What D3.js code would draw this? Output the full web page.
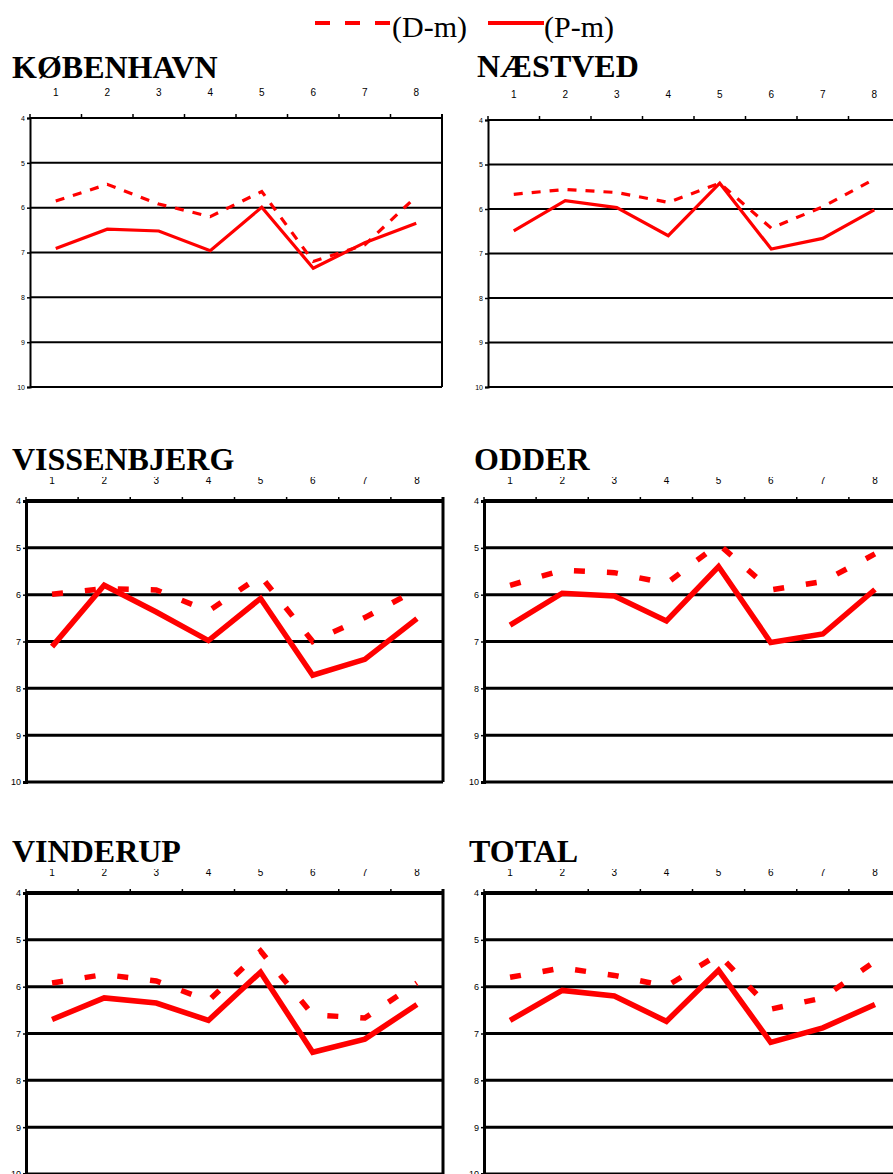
<!DOCTYPE html>
<html>
<head>
<meta charset="utf-8">
<script src="https://cdn.jsdelivr.net/npm/d3@7"></script>
<style>
  body { margin: 0; background: #fff; }
  svg { display: block; }
</style>
</head>
<body>
<div id="chart"></div>
<script>
const W = 893, H = 1174;

// data
const categories = ["1", "2", "3", "4", "5", "6", "7", "8"];
const yTicks = [4, 5, 6, 7, 8, 9, 10];
const seriesNames = ["(D-m)", "(P-m)"];
const towns = ["KØBENHAVN", "NÆSTVED", "VISSENBJERG", "ODDER", "VINDERUP", "TOTAL"];

const kobenhavnD = [5.85, 5.48, 5.92, 6.2, 5.64, 7.2, 6.83, 5.75];
const kobenhavnP = [6.91, 6.48, 6.52, 6.96, 5.99, 7.35, 6.78, 6.35];
const naestvedD = [5.67, 5.56, 5.63, 5.85, 5.42, 6.43, 5.95, 5.33];
const naestvedP = [6.49, 5.81, 5.97, 6.6, 5.42, 6.9, 6.66, 6.02];
const vissenbjergD = [5.99, 5.87, 5.9, 6.35, 5.6, 7.0, 6.49, 5.89];
const vissenbjergP = [7.11, 5.8, 6.37, 6.98, 6.08, 7.72, 7.38, 6.51];
const odderD = [5.8, 5.48, 5.53, 5.76, 4.92, 5.9, 5.72, 5.13];
const odderP = [6.65, 5.97, 6.03, 6.56, 5.4, 7.02, 6.84, 5.89];
const vinderupD = [5.92, 5.74, 5.88, 6.3, 5.24, 6.6, 6.67, 5.92];
const vinderupP = [6.7, 6.24, 6.35, 6.72, 5.69, 7.4, 7.12, 6.38];
const totalD = [5.8, 5.6, 5.76, 5.99, 5.31, 6.48, 6.24, 5.46];
const totalP = [6.72, 6.08, 6.2, 6.74, 5.65, 7.19, 6.88, 6.38];

const dValues = [kobenhavnD, naestvedD, vissenbjergD, odderD, vinderupD, totalD];
const pValues = [kobenhavnP, naestvedP, vissenbjergP, odderP, vinderupP, totalP];

// panel layout (pixel boxes)
const panels = [
  {x: 30,  y: 118, w: 412, h: 269, tx: 12,  ty: 78,  big: false},
  {x: 488, y: 120, w: 412, h: 267, tx: 477, ty: 77,  big: false},
  {x: 26,  y: 501, w: 417, h: 281, tx: 12,  ty: 470, big: true},
  {x: 484, y: 501, w: 417, h: 281, tx: 474, ty: 470, big: true},
  {x: 26,  y: 893, w: 417, h: 281, tx: 12,  ty: 862, big: true},
  {x: 484, y: 893, w: 417, h: 281, tx: 469, ty: 862, big: true}
];

const red = "#ff0000";

const svg = d3.select("#chart").append("svg")
    .attr("width", W)
    .attr("height", H)
    .attr("viewBox", `0 0 ${W} ${H}`);

const defs = svg.append("defs");

// legend
const legend = svg.append("g").attr("font-family", "Liberation Serif, Times New Roman, serif")
    .attr("font-size", 30);
legend.append("line")
    .attr("x1", 315).attr("x2", 391).attr("y1", 23).attr("y2", 23)
    .attr("stroke", red).attr("stroke-width", 4).attr("stroke-dasharray", "15,15");
legend.append("text").attr("x", 392).attr("y", 37).text(seriesNames[0]);
legend.append("line")
    .attr("x1", 488).attr("x2", 544).attr("y1", 23).attr("y2", 23)
    .attr("stroke", red).attr("stroke-width", 4);
legend.append("text").attr("x", 544).attr("y", 37).text(seriesNames[1]);

panels.forEach((p, i) => {
    const g = svg.append("g");
    const gridW = p.big ? 3 : 2;
    const lineW = p.big ? 5.5 : 3.2;
    const dash = p.big ? "11,22" : "9,9";

    const x = d3.scaleBand().domain(categories).range([p.x, p.x + p.w]);
    const y = d3.scaleLinear().domain([4, 10]).range([p.y, p.y + p.h]);

    // in the lower rows the title hides the upper half of the labels
    const labelY = p.y - 21 - (p.big ? 0 : 5);
    if (p.big) {
        defs.append("clipPath").attr("id", "lab" + i)
            .append("rect")
            .attr("x", p.x - 20).attr("y", -3)
            .attr("width", p.w + 40).attr("height", 20);
    }

    // x labels at category centres
    g.append("g")
        .attr("transform", `translate(0,${labelY})`)
        .attr("clip-path", p.big ? `url(#lab${i})` : null)
        .call(d3.axisTop(x).tickSize(0).tickPadding(0))
        .call(a => a.select(".domain").remove())
        .selectAll("text")
        .attr("font-family", "Liberation Sans, Arial, sans-serif")
        .attr("font-size", 10)
        .attr("dy", "0.35em")
        .attr("fill", "#000");

    g.append("text")
        .attr("x", p.tx).attr("y", p.ty)
        .attr("font-family", "Liberation Serif, Times New Roman, serif")
        .attr("font-weight", "bold")
        .attr("font-size", 32)
        .text(towns[i]);

    // horizontal gridlines (incl. top and bottom frame)
    g.append("g").selectAll("line")
        .data(yTicks)
        .join("line")
        .attr("x1", p.x).attr("x2", p.x + p.w)
        .attr("y1", d => y(d)).attr("y2", d => y(d))
        .attr("stroke", "#000")
        .attr("stroke-width", d => (d === 4 && p.big) ? 4 : gridW);

    // category boundary ticks on the top edge
    const bounds = categories.map(c => x(c)).concat([p.x + p.w]);
    g.append("g").selectAll("line")
        .data(bounds)
        .join("line")
        .attr("x1", d => d).attr("x2", d => d)
        .attr("y1", p.y).attr("y2", p.y - 4)
        .attr("stroke", "#000").attr("stroke-width", 1.5);

    // y axis
    g.append("g")
        .attr("transform", `translate(${p.x},0)`)
        .call(d3.axisLeft(y).tickValues(yTicks).tickFormat(d3.format("d"))
            .tickSize(3).tickPadding(2))
        .call(a => a.select(".domain")
            .attr("stroke-width", p.big ? 3 : 2))
        .call(a => a.selectAll(".tick line").attr("stroke-width", 1.5))
        .selectAll("text")
        .attr("font-family", "Liberation Sans, Arial, sans-serif")
        .attr("font-size", p.big ? 9 : 7)
        .attr("fill", "#000");

    // right frame
    g.append("line")
        .attr("x1", p.x + p.w).attr("x2", p.x + p.w)
        .attr("y1", p.y - 4).attr("y2", p.y + p.h)
        .attr("stroke", "#000").attr("stroke-width", gridW);

    const line = d3.line()
        .x((d, k) => x(categories[k]) + x.bandwidth() / 2)
        .y(d => y(d));

    g.append("path")
        .datum(dValues[i])
        .attr("d", line)
        .attr("fill", "none")
        .attr("stroke", red)
        .attr("stroke-width", lineW)
        .attr("stroke-dasharray", dash);

    g.append("path")
        .datum(pValues[i])
        .attr("d", line)
        .attr("fill", "none")
        .attr("stroke", red)
        .attr("stroke-width", lineW);
});
</script>
</body>
</html>
